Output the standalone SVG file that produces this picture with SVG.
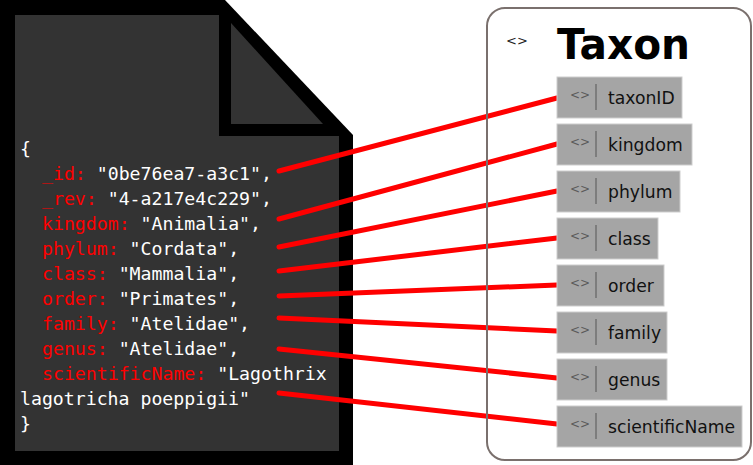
<svg xmlns="http://www.w3.org/2000/svg" width="753" height="465" viewBox="0 0 753 465">
<style>
.code{font-family:"DejaVu Sans Mono","Liberation Mono",monospace;font-size:18.2px;fill:#ffffff}
.k{fill:#ff0000}
.conn{stroke:#ff0000;stroke-width:5;stroke-linecap:round;fill:none}
.box{fill:#a5a5a5;stroke:#cdcdcd;stroke-width:1}
.ico{font-family:"DejaVu Sans",sans-serif;font-size:12px;fill:#5a5a5a}
.sep{stroke:#707070;stroke-width:1.5}
.lbl{font-family:"DejaVu Sans","Liberation Sans",sans-serif;font-size:17.2px;fill:#111111}
</style>
<rect width="753" height="465" fill="#ffffff"/>
<g id="document">
<polygon points="0,0 225,0 353,135 353,465 0,465" fill="#000000"/>
<polygon points="15,15 219,15 219,136 339,136 339,451 15,451" fill="#333333"/>
<polygon points="231,23 231,124 323,124" fill="#333333"/>
<text class="code" x="20" y="155">{</text>
<text class="code" x="42" y="180"><tspan class="k">_id:</tspan> "0be76ea7-a3c1",</text>
<text class="code" x="42" y="205"><tspan class="k">_rev:</tspan> "4-a217e4c229",</text>
<text class="code" x="42" y="230"><tspan class="k">kingdom:</tspan> "Animalia",</text>
<text class="code" x="42" y="255"><tspan class="k">phylum:</tspan> "Cordata",</text>
<text class="code" x="42" y="280"><tspan class="k">class:</tspan> "Mammalia",</text>
<text class="code" x="42" y="305"><tspan class="k">order:</tspan> "Primates",</text>
<text class="code" x="42" y="330"><tspan class="k">family:</tspan> "Atelidae",</text>
<text class="code" x="42" y="355"><tspan class="k">genus:</tspan> "Atelidae",</text>
<text class="code" x="42" y="380"><tspan class="k">scientificName:</tspan> "Lagothrix</text>
<text class="code" x="20" y="405">lagotricha poeppigii"</text>
<text class="code" x="20" y="430">}</text>
</g>
<g id="connectors">
<line class="conn" x1="279" y1="171" x2="557" y2="98"/>
<line class="conn" x1="279" y1="219" x2="557" y2="144"/>
<line class="conn" x1="279" y1="247" x2="557" y2="191"/>
<line class="conn" x1="279" y1="271" x2="557" y2="238"/>
<line class="conn" x1="279" y1="296" x2="557" y2="285"/>
<line class="conn" x1="279" y1="318" x2="557" y2="331"/>
<line class="conn" x1="279" y1="349" x2="557" y2="378"/>
<line class="conn" x1="279" y1="393" x2="557" y2="424"/>
</g>
<g id="taxon">
<rect x="487" y="8" width="264" height="452" rx="18" ry="18" fill="none" stroke="#7a706d" stroke-width="2"/>
<text x="506" y="45" font-family="DejaVu Sans, sans-serif" font-size="13" fill="#222222">&lt;&gt;</text>
<text x="557" y="59" font-family="DejaVu Sans, sans-serif" font-weight="bold" font-size="42" textLength="133" lengthAdjust="spacingAndGlyphs" fill="#000000">Taxon</text>
</g>
<g id="f-taxonID"><rect class="box" x="557" y="77" width="125" height="41"/><text class="ico" x="570" y="99">&lt;&gt;</text><line class="sep" x1="596" y1="84" x2="596" y2="110"/><text class="lbl" x="608" y="104">taxonID</text></g>
<g id="f-kingdom"><rect class="box" x="557" y="124" width="135" height="41"/><text class="ico" x="570" y="146">&lt;&gt;</text><line class="sep" x1="596" y1="131" x2="596" y2="157"/><text class="lbl" x="608" y="151">kingdom</text></g>
<g id="f-phylum"><rect class="box" x="557" y="171" width="123" height="41"/><text class="ico" x="570" y="193">&lt;&gt;</text><line class="sep" x1="596" y1="178" x2="596" y2="204"/><text class="lbl" x="608" y="198">phylum</text></g>
<g id="f-class"><rect class="box" x="557" y="218" width="101" height="41"/><text class="ico" x="570" y="240">&lt;&gt;</text><line class="sep" x1="596" y1="225" x2="596" y2="251"/><text class="lbl" x="608" y="245">class</text></g>
<g id="f-order"><rect class="box" x="557" y="265" width="107" height="41"/><text class="ico" x="570" y="287">&lt;&gt;</text><line class="sep" x1="596" y1="272" x2="596" y2="298"/><text class="lbl" x="608" y="292">order</text></g>
<g id="f-family"><rect class="box" x="557" y="312" width="110" height="41"/><text class="ico" x="570" y="334">&lt;&gt;</text><line class="sep" x1="596" y1="319" x2="596" y2="345"/><text class="lbl" x="608" y="339">family</text></g>
<g id="f-genus"><rect class="box" x="557" y="359" width="110" height="41"/><text class="ico" x="570" y="381">&lt;&gt;</text><line class="sep" x1="596" y1="366" x2="596" y2="392"/><text class="lbl" x="608" y="386">genus</text></g>
<g id="f-scientificName"><rect class="box" x="557" y="406" width="185" height="41"/><text class="ico" x="570" y="428">&lt;&gt;</text><line class="sep" x1="596" y1="413" x2="596" y2="439"/><text class="lbl" x="608" y="433">scientificName</text></g>
</svg>
